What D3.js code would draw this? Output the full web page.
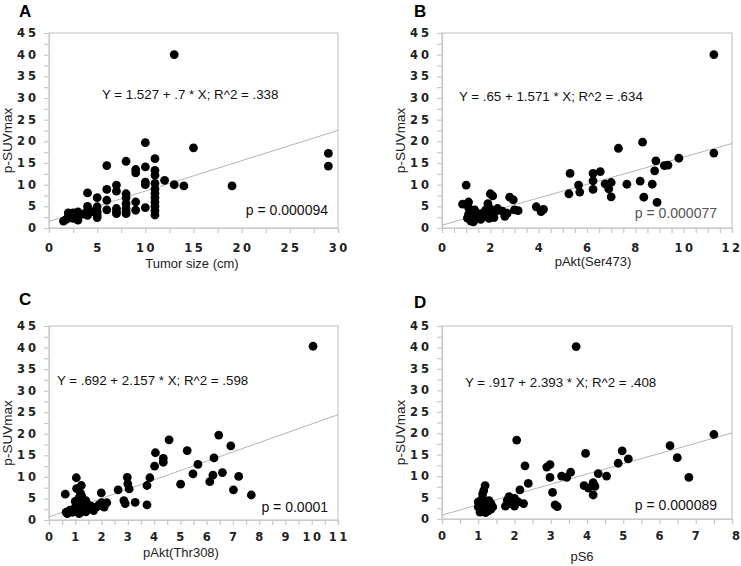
<!DOCTYPE html>
<html><head><meta charset="utf-8">
<script src="https://cdn.jsdelivr.net/npm/d3@7"></script>
<style>body{margin:0;background:#fff} svg{display:block}</style>
</head><body>
<svg id="c" width="741" height="566"></svg>
<script>
// ---------- DATA ----------
const panelLetters = ["A", "B", "C", "D"];
const xTitles = ["Tumor size (cm)", "pAkt(Ser473)", "pAkt(Thr308)", "pS6"];
const yTitle = "p-SUVmax";
const equations = [
  "Y = 1.527 + .7 * X; R^2 = .338",
  "Y = .65 + 1.571 * X; R^2 = .634",
  "Y = .692 + 2.157 * X; R^2 = .598",
  "Y = .917 + 2.393 * X; R^2 = .408"
];
const pTexts = ["p = 0.000094", "p = 0.000077", "p = 0.0001", "p = 0.000089"];
const intercepts = [1.527, 0.65, 0.692, 0.917];
const slopes = [0.7, 1.571, 2.157, 2.393];
const xMax = [30, 12, 11, 8];
const xMajorStep = [5, 2, 1, 1];
const xMinorStep = [2.5, 0.5, 0.5, 0.5];
const yMax = 45;
const yMajorStep = 5;
const yMinorStep = 2.5;

const tumorSize = [
[1.5,1.6],[1.8,2.0],[2,3.5],[2,2.5],[2.5,3.5],[2.5,2.2],[3,3.7],[3,1.8],[3,2.8],[3.5,3.2],
[4,8.1],[4,5],[4,4.1],[4,2.9],[4,3.5],[4.5,3.8],[5,7],[5,4.9],[5,3.7],[5,2.4],[5,3.0],
[6,14.4],[6,8.9],[6,6.4],[6,4.2],[7,9.9],[7,8.5],[7,4.5],[7,3.3],[7,3.8],
[8,15.4],[8,7.9],[8,7],[8,5.6],[8,4.5],[8,3.3],[8,3.8],[9,13.5],[9,12.7],[9,6],[9,4.1],
[10,19.7],[10,14.1],[10,10.6],[10,10],[10,4.7],
[11,16],[11,13.3],[11,12.2],[11,10.3],[11,9],[11,8],[11,7],[11,6],[11,5],[11,4],[11,3],
[12,11],[13,40],[13,10],[14,9.7],[15,18.5],[19,9.7],[29,17.2],[29,14.3]
];
const pAktSer = [
[0.85,5.5],[1.0,9.9],[1.05,2.3],[1.1,6.0],[1.1,4.7],[1.1,3.2],[1.15,2.0],[1.2,2.8],[1.2,1.6],[1.25,3.5],
[1.3,2.2],[1.35,4.2],[1.4,2.6],[1.5,3.0],[1.6,3.3],[1.7,2.5],[1.8,4.1],[1.85,3.0],[1.9,5.6],[2.0,7.9],
[2.0,4.4],[2.05,3.0],[2.1,7.4],[2.15,2.4],[2.2,3.7],[2.3,4.5],[2.5,3.9],[2.7,3.4],[2.8,7.1],[2.95,6.5],
[3.0,4.2],[3.15,4.0],[3.9,4.9],[4.1,3.8],[4.2,4.3],[1.3,1.4],[1.6,2.0],[1.95,2.2],[2.6,2.7],
[5.25,7.9],[5.3,12.6],[5.65,9.9],[5.7,8.3],[6.25,8.9],[6.25,10.9],[6.25,12.6],[6.55,13.0],[6.75,10.2],
[6.9,9.0],[7.0,10.5],[7.0,7.2],[7.3,18.4],[7.65,10.1],[8.2,10.8],[8.3,19.8],[8.35,7.1],[8.7,10.1],
[8.8,13.2],[8.85,15.5],[8.9,5.9],[9.2,14.4],[9.35,14.5],[9.8,16.1],[11.25,17.3],[11.25,40]
];
const pAktThr = [
[0.62,6.0],[0.65,1.8],[0.7,1.5],[0.8,2.3],[1.0,3.0],[1.04,9.8],[1.05,7.3],[1.1,4.7],[1.1,2.0],[1.15,1.5],
[1.2,3.5],[1.23,8.0],[1.25,5.5],[1.25,2.6],[1.3,4.2],[1.35,3.0],[1.4,1.9],[1.45,3.8],[1.5,2.5],[1.6,2.6],
[1.8,3.0],[1.9,3.5],[1.99,6.3],[2.0,4.0],[2.1,3.0],[2.2,4.0],[1.0,4.3],[1.15,5.2],[1.3,2.1],[1.7,2.2],
[1.2,6.2],[0.9,1.8],[1.4,4.5],[2.05,3.3],[1.6,3.2],
[2.63,7.0],[2.85,4.5],[2.9,3.8],[2.98,9.9],[3.0,8.4],[3.05,7.2],[3.28,4.1],[3.73,3.5],[3.73,8.0],[3.84,9.8],
[4.02,12.5],[4.05,15.6],[4.35,14.3],[4.35,13.4],[4.57,18.6],[5.01,8.3],[5.26,16.1],[5.48,10.7],[5.67,12.9],
[6.12,8.9],[6.24,10.4],[6.28,14.4],[6.46,19.7],[6.6,11.0],[6.92,17.2],[7.02,7.0],[7.22,10.1],[7.7,5.8],[10.05,40.3]
];
const pS6 = [
[1.0,4.0],[1.0,2.8],[1.02,3.5],[1.05,2.2],[1.05,1.6],[1.08,3.0],[1.1,4.6],[1.1,2.0],[1.12,5.8],[1.15,6.6],
[1.15,2.5],[1.18,3.5],[1.19,7.8],[1.2,1.5],[1.22,4.2],[1.25,2.7],[1.25,3.9],[1.28,1.9],[1.3,3.0],[1.35,2.3],
[1.4,2.8],[1.1,3.3],[1.2,2.2],[1.3,4.3],[1.15,1.8],[1.35,3.6],[2.0,4.8],
[1.75,3.0],[1.8,4.4],[1.85,5.2],[1.9,3.6],[2.0,3.0],[2.06,18.4],[2.1,4.0],[2.15,6.8],[2.25,3.6],[2.29,12.4],
[2.38,8.3],[2.89,12.1],[2.98,12.7],[2.98,9.7],[3.05,6.2],[3.12,3.3],[3.18,2.9],[3.30,10.0],[3.44,9.7],
[3.55,10.9],[3.7,40.2],[3.92,7.8],[3.96,15.3],[4.04,7.2],[4.17,8.5],[4.22,7.6],[4.17,5.6],[4.31,10.6],
[4.54,10.0],[4.86,13.0],[4.97,15.9],[5.14,14.0],[6.29,17.1],[6.49,14.3],[6.81,9.7],[7.5,19.7]
];
const panelData = [tumorSize, pAktSer, pAktThr, pS6];

// ---------- LAYOUT ----------
const W = 741;
const boxes = [
  {x0: 49, x1: 338, y0: 33, y1: 228},
  {x0: 442, x1: 732, y0: 33, y1: 228},
  {x0: 49, x1: 338, y0: 326, y1: 520},
  {x0: 442, x1: 732, y0: 326, y1: 519}
];
const letterPos = [[19,17],[414,17],[19,305],[414,308]];
const eqPos = [[102,99],[459,101],[57,385],[465,387]];
const pPos = [[328,215],[717,218],[328,512],[717,510]];
const xTickOffset = [24, 24, 21, 21];
const xTitlePos = [[192,268],[593,266],[181,557],[582,561]];

const svg = d3.select("#c");
const FRAME = "#c9c9c9";
const tickFont = "DejaVu Sans, sans-serif";
const textFont = "Liberation Sans, Arial, sans-serif";

panelData.forEach((pts, i) => {
  const b = boxes[i];
  const x = d3.scaleLinear().domain([0, xMax[i]]).range([b.x0, b.x1]);
  const y = d3.scaleLinear().domain([0, yMax]).range([b.y1, b.y0]);
  const g = svg.append("g");

  // frame
  g.append("rect").attr("x", b.x0).attr("y", b.y0)
    .attr("width", b.x1 - b.x0).attr("height", b.y1 - b.y0)
    .attr("fill", "none").attr("stroke", FRAME).attr("stroke-width", 1.2);

  // x axis ticks (minor + major)
  const xMinorTicks = d3.range(0, xMax[i] + 1e-9, xMinorStep[i]);
  const xAxis = d3.axisBottom(x).tickValues(xMinorTicks).tickSize(5).tickFormat("");
  const gx = g.append("g").attr("transform", `translate(0,${b.y1})`).call(xAxis);
  gx.select(".domain").attr("stroke", FRAME).attr("stroke-width", 1.2);
  gx.selectAll(".tick line").attr("stroke", FRAME).attr("stroke-width", 1.2);

  const xMajorTicks = d3.range(0, xMax[i] + 1e-9, xMajorStep[i]);
  g.selectAll(".xl").data(xMajorTicks).join("text")
    .attr("x", d => x(d) > W - 12 ? W - 1 : x(d))
    .attr("y", b.y1 + xTickOffset[i])
    .attr("text-anchor", d => x(d) > W - 12 ? "end" : "middle")
    .attr("dx", d => x(d) > W - 12 ? "2.5px" : "1.25px")
    .attr("letter-spacing", "2.5px")
    .attr("font-family", tickFont).attr("font-size", "11.5px")
    .attr("font-weight", "bold").attr("fill", "#222")
    .text(d => d);

  // y axis
  const yMinorTicks = d3.range(0, yMax + 1e-9, yMinorStep);
  const yAxis = d3.axisLeft(y).tickValues(yMinorTicks).tickSize(5).tickFormat("");
  const gy = g.append("g").attr("transform", `translate(${b.x0},0)`).call(yAxis);
  gy.select(".domain").attr("stroke", FRAME).attr("stroke-width", 1.2);
  gy.selectAll(".tick line").attr("stroke", FRAME).attr("stroke-width", 1.2);

  const yMajorTicks = d3.range(0, yMax + 1e-9, yMajorStep);
  g.selectAll(".yl").data(yMajorTicks).join("text")
    .attr("x", b.x0 - 10).attr("y", d => y(d) + 4)
    .attr("text-anchor", "end")
    .attr("letter-spacing", "3px")
    .attr("font-family", tickFont).attr("font-size", "11.5px")
    .attr("font-weight", "bold").attr("fill", "#222")
    .text(d => d);

  // regression line
  g.append("line")
    .attr("x1", x(0)).attr("y1", y(intercepts[i]))
    .attr("x2", x(xMax[i])).attr("y2", y(intercepts[i] + slopes[i] * xMax[i]))
    .attr("stroke", "#b5b5b5").attr("stroke-width", 1);

  // points
  g.selectAll("circle").data(pts).join("circle")
    .attr("cx", d => x(d[0])).attr("cy", d => y(d[1]))
    .attr("r", 4.4).attr("fill", "#000");

  // texts
  g.append("text").attr("x", eqPos[i][0]).attr("y", eqPos[i][1])
    .attr("font-family", textFont).attr("font-size", "13.3px").attr("fill", "#111")
    .text(equations[i]);
  g.append("text").attr("x", pPos[i][0]).attr("y", pPos[i][1])
    .attr("text-anchor", "end")
    .attr("font-family", textFont).attr("font-size", "14px").attr("fill", i === 1 ? "#555" : "#111")
    .text(pTexts[i]);
  g.append("text").attr("x", xTitlePos[i][0]).attr("y", xTitlePos[i][1])
    .attr("text-anchor", "middle")
    .attr("font-family", textFont).attr("font-size", "13px").attr("fill", "#222")
    .text(xTitles[i]);
  const ycx = b.x0 - 42, ycy = (b.y0 + b.y1) / 2 + 10;
  g.append("text")
    .attr("transform", `translate(${ycx},${ycy}) rotate(-90)`)
    .attr("text-anchor", "middle").attr("dy", "0.35em")
    .attr("font-family", textFont).attr("font-size", "13.5px").attr("fill", "#222")
    .text(yTitle);
  g.append("text").attr("x", letterPos[i][0]).attr("y", letterPos[i][1])
    .attr("font-family", textFont).attr("font-size", "17px").attr("font-weight", "bold")
    .attr("fill", "#000")
    .text(panelLetters[i]);
});
</script>
</body></html>
